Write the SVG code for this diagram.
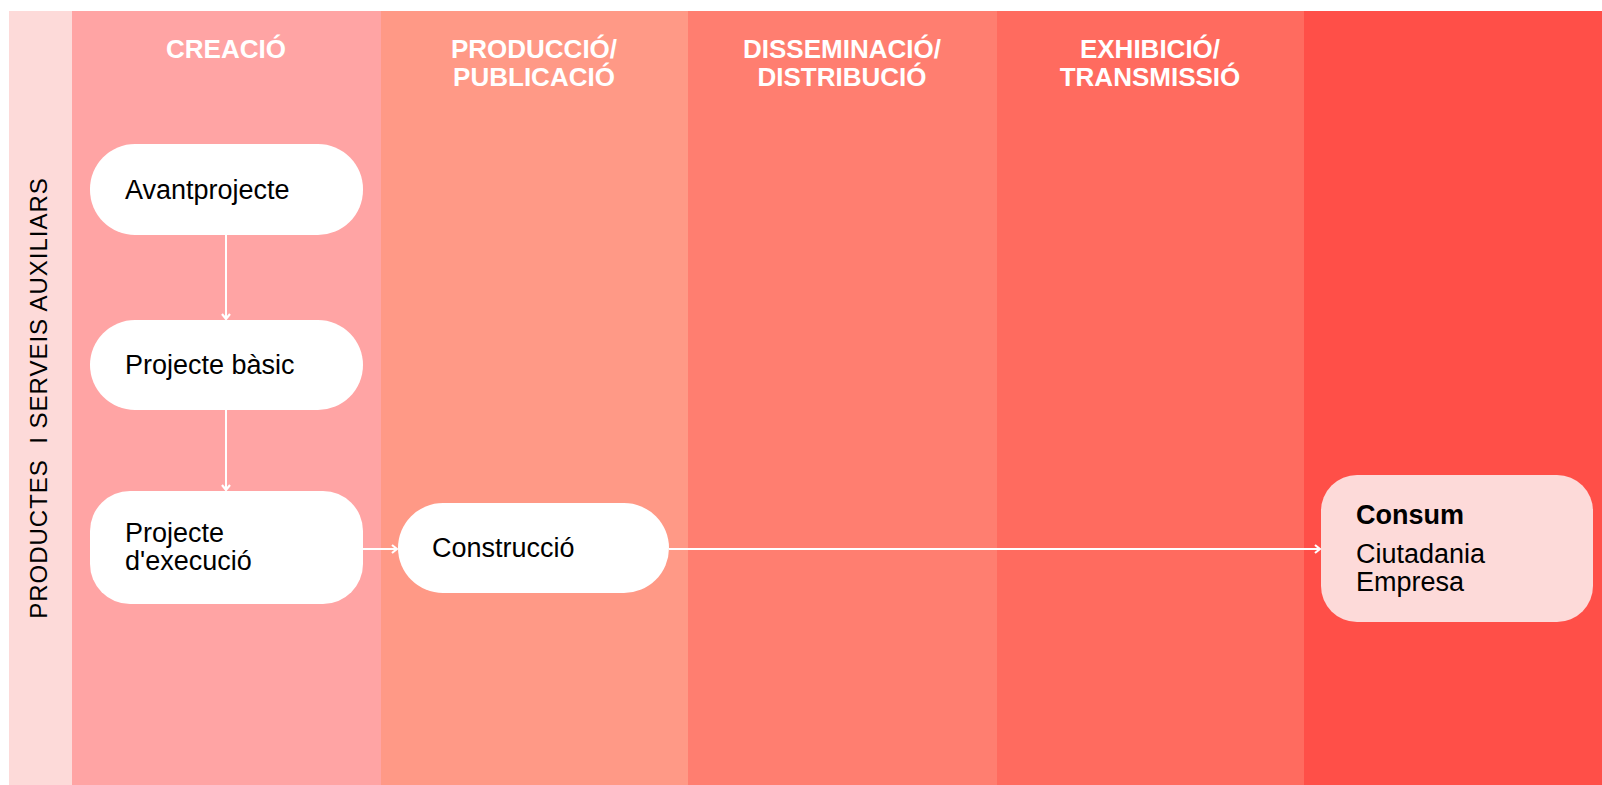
<svg xmlns="http://www.w3.org/2000/svg" width="1602" height="785" viewBox="0 0 1602 785">
  <defs>
    <marker id="arr" viewBox="0 0 10 10" refX="9" refY="5" markerWidth="10" markerHeight="10" markerUnits="userSpaceOnUse" orient="auto">
      <path d="M4,1 L9,5 L4,9" fill="none" stroke="#ffffff" stroke-width="2.2"/>
    </marker>
    <style>
      .hdr { font-family: "Liberation Sans", Arial, sans-serif; font-weight: bold; font-size: 26px; fill: #ffffff; text-anchor: middle; }
      .lbl { font-family: "Liberation Sans", Arial, sans-serif; font-size: 27px; fill: #000000; }
      .bold { font-weight: bold; }
      .node { fill: #ffffff; }
      .conn { stroke: #ffffff; stroke-width: 2; fill: none; marker-end: url(#arr); }
    </style>
  </defs>
  <rect x="0" y="0" width="1602" height="785" fill="#ffffff"/>
  <g id="columns">
    <rect x="9" y="11" width="63" height="774" fill="#FDDAD9"/>
    <rect x="72" y="11" width="309" height="774" fill="#FFA4A4"/>
    <rect x="381" y="11" width="307" height="774" fill="#FF9986"/>
    <rect x="688" y="11" width="309" height="774" fill="#FF7E70"/>
    <rect x="997" y="11" width="307" height="774" fill="#FF6B5F"/>
    <rect x="1304" y="11" width="298" height="774" fill="#FF4F48"/>
  </g>
  <g id="headers">
    <text class="hdr" x="226" y="58">CREACIÓ</text>
    <text class="hdr" x="534" y="58">PRODUCCIÓ/</text>
    <text class="hdr" x="534" y="86">PUBLICACIÓ</text>
    <text class="hdr" x="842" y="58">DISSEMINACIÓ/</text>
    <text class="hdr" x="842" y="86">DISTRIBUCIÓ</text>
    <text class="hdr" x="1150" y="58">EXHIBICIÓ/</text>
    <text class="hdr" x="1150" y="86">TRANSMISSIÓ</text>
  </g>
  <g id="sidebar">
    <text transform="translate(47,398) rotate(-90)" text-anchor="middle" font-family="Liberation Sans, Arial, sans-serif" font-size="24" letter-spacing="1" fill="#000000" xml:space="preserve">PRODUCTES  I SERVEIS AUXILIARS</text>
  </g>
  <g id="connectors">
    <line class="conn" x1="226" y1="235" x2="226" y2="319"/>
    <line class="conn" x1="226" y1="410" x2="226" y2="490"/>
    <line class="conn" x1="362" y1="549" x2="397" y2="549"/>
    <line class="conn" x1="669" y1="549" x2="1320" y2="549"/>
  </g>
  <g id="avantprojecte">
    <rect class="node" x="90" y="144" width="273" height="91" rx="45" ry="45"/>
    <text class="lbl" x="125" y="199">Avantprojecte</text>
  </g>
  <g id="projecte-basic">
    <rect class="node" x="90" y="320" width="273" height="90" rx="45" ry="45"/>
    <text class="lbl" x="125" y="374">Projecte bàsic</text>
  </g>
  <g id="projecte-execucio">
    <rect class="node" x="90" y="491" width="273" height="113" rx="40" ry="40"/>
    <text class="lbl" x="125" y="542">Projecte</text>
    <text class="lbl" x="125" y="570">d'execució</text>
  </g>
  <g id="construccio">
    <rect class="node" x="398" y="503" width="271" height="90" rx="45" ry="45"/>
    <text class="lbl" x="432" y="557">Construcció</text>
  </g>
  <g id="consum">
    <rect x="1321" y="475" width="272" height="147" rx="36" ry="36" fill="#FDDAD9"/>
    <text class="lbl bold" x="1356" y="524">Consum</text>
    <text class="lbl" x="1356" y="563">Ciutadania</text>
    <text class="lbl" x="1356" y="591">Empresa</text>
  </g>
</svg>
